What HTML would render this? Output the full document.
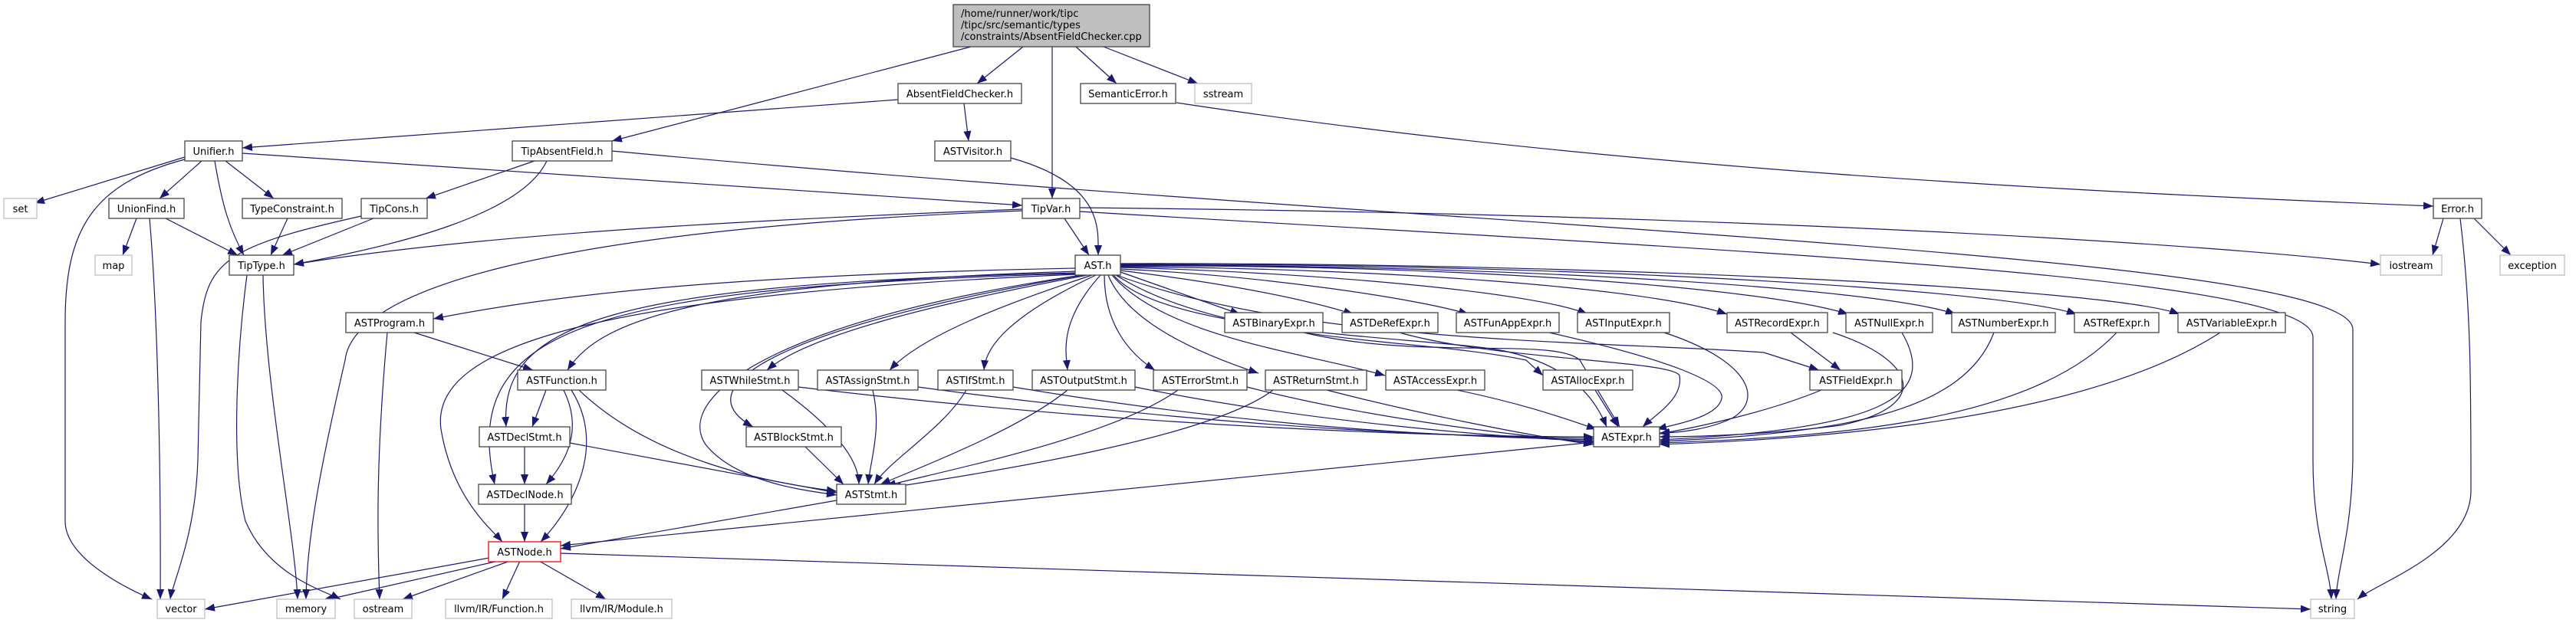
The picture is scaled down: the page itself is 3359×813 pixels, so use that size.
<!DOCTYPE html>
<html><head><meta charset="utf-8"><style>
html,body{margin:0;padding:0;background:#fff;}
svg{display:block;}
text{font-family:"DejaVu Sans","Liberation Sans",sans-serif;font-size:13px;fill:#000;}
.n{fill:#fff;stroke:#444;stroke-width:1.3;}
.g{fill:#fff;stroke:#bfbfbf;stroke-width:1.3;}
.r{fill:#fff;stroke:#ff0000;stroke-width:1.3;}
.e{fill:none;stroke:#191970;stroke-width:1.2;marker-end:url(#a);}
</style></head><body>
<svg width="3359" height="813" viewBox="0 0 3359 813" xmlns="http://www.w3.org/2000/svg">
<defs><marker id="a" markerUnits="userSpaceOnUse" markerWidth="14" markerHeight="12" refX="13" refY="5" orient="auto"><path d="M0,0 L13,5 L0,10 z" fill="#191970"/></marker></defs>
<g>
<path class="e" d="M1334,61 L1274,109"/>
<path class="e" d="M1266,61 L798,184"/>
<path class="e" d="M1372,61 L1372,259"/>
<path class="e" d="M1403,61 L1456,109"/>
<path class="e" d="M1439,61 L1562,109"/>
<path class="e" d="M1171,130 L316,193"/>
<path class="e" d="M1257,135 L1263,184"/>
<path class="e" d="M1534,134 C2100,220 2700,250 3173,269"/>
<path class="e" d="M241,205 L45,265"/>
<path class="e" d="M263,210 L208,259"/>
<path class="e" d="M294,210 L357,259"/>
<path class="e" d="M280,210 C290,270 300,300 318,333"/>
<path class="e" d="M316,200 L1333,268"/>
<path class="e" d="M241,208 C120,240 85,300 85,420 L85,680 C85,730 170,770 198,782"/>
<path class="e" d="M697,210 L555,259"/>
<path class="e" d="M713,210 C680,280 520,320 383,345"/>
<path class="e" d="M798,197 C1900,300 3068,330 3068,430 L3068,600 C3066,700 3048,740 3046,782"/>
<path class="e" d="M1408,276 C2300,330 3016,360 3016,440 L3016,600 C3016,700 3038,740 3040,782"/>
<path class="e" d="M3208,285 C3222,400 3222,500 3222,640 C3222,720 3100,760 3074,782"/>
<path class="e" d="M1408,271 C2300,280 2900,320 3104,345"/>
<path class="e" d="M1333,273 C900,290 600,310 383,345"/>
<path class="e" d="M1388,285 L1420,333"/>
<path class="e" d="M1333,275 C700,300 460,380 450,470 C420,600 400,700 399,782"/>
<path class="e" d="M1318,206 C1440,240 1432,300 1432,333"/>
<path class="e" d="M3186,285 L3172,333"/>
<path class="e" d="M3226,285 L3274,333"/>
<path class="e" d="M178,285 L160,333"/>
<path class="e" d="M216,285 L310,333"/>
<path class="e" d="M195,285 C205,400 210,600 209,782"/>
<path class="e" d="M471,282 C300,320 270,340 262,420 L258,600 C255,700 225,760 222,782"/>
<path class="e" d="M375,285 L353,333"/>
<path class="e" d="M487,285 L368,333"/>
<path class="e" d="M343,359 C345,500 385,700 388,782"/>
<path class="e" d="M322,359 C310,450 300,600 320,680 C350,750 420,770 444,782"/>
<path class="e" d="M505,434 C490,600 492,700 495,782"/>
<path class="e" d="M540,434 L695,483"/>
<path class="e" d="M1402,350 C900,360 700,390 565,416"/>
<path class="e" d="M1404,354 C900,370 780,420 740,483"/>
<path class="e" d="M1404,356 C800,370 650,420 660,557"/>
<path class="e" d="M1404,357 C760,375 600,430 645,632"/>
<path class="e" d="M1404,358 C780,385 560,450 575,560 C590,650 640,690 655,707"/>
<path class="e" d="M1410,359 C1000,420 880,520 920,580 C960,630 1050,640 1091,646"/>
<path class="e" d="M1412,359 C1050,420 880,500 982,557"/>
<path class="e" d="M1418,359 C1200,400 1050,440 1000,483"/>
<path class="e" d="M1424,359 C1300,400 1200,440 1160,483"/>
<path class="e" d="M1429,359 C1300,420 1285,460 1283,483"/>
<path class="e" d="M1435,359 C1380,420 1390,460 1392,483"/>
<path class="e" d="M1440,359 C1440,420 1470,460 1506,483"/>
<path class="e" d="M1445,359 C1470,420 1560,460 1641,487"/>
<path class="e" d="M1450,359 C1520,440 1700,460 1806,490"/>
<path class="e" d="M1455,359 C1600,450 1850,440 1990,470 L2012,490"/>
<path class="e" d="M1456,359 C1700,450 2100,445 2300,460 L2372,483"/>
<path class="e" d="M1452,359 C1520,440 1900,440 1970,460 C2050,480 2080,520 2095,557"/>
<path class="e" d="M1461,355 L1617,410"/>
<path class="e" d="M1461,353 C1600,370 1700,390 1765,410"/>
<path class="e" d="M1461,351 C1650,360 1850,390 1915,410"/>
<path class="e" d="M1461,349 C1700,355 2000,380 2070,410"/>
<path class="e" d="M1461,348 C1800,350 2150,375 2252,410"/>
<path class="e" d="M1461,347 C1900,345 2300,375 2410,410"/>
<path class="e" d="M1461,346 C1950,345 2450,375 2550,410"/>
<path class="e" d="M1461,345 C2000,343 2600,375 2708,410"/>
<path class="e" d="M1461,344 C2050,342 2750,375 2842,410"/>
<path class="e" d="M1020,509 C1090,560 1120,600 1120,632"/>
<path class="e" d="M1041,505 C1500,560 1900,570 2078,570"/>
<path class="e" d="M1138,509 C1150,560 1135,600 1132,632"/>
<path class="e" d="M1197,505 C1600,560 1900,570 2078,572"/>
<path class="e" d="M1260,509 C1230,560 1160,600 1140,632"/>
<path class="e" d="M1321,505 C1650,560 1900,570 2078,574"/>
<path class="e" d="M1392,509 C1330,560 1200,610 1148,632"/>
<path class="e" d="M1480,505 C1700,550 1950,570 2078,576"/>
<path class="e" d="M1536,509 C1450,570 1250,610 1155,634"/>
<path class="e" d="M1626,505 C1800,550 2000,570 2078,578"/>
<path class="e" d="M1660,509 C1580,570 1300,615 1162,636"/>
<path class="e" d="M1730,509 C1850,540 2000,570 2078,580"/>
<path class="e" d="M1900,509 C2000,530 2050,550 2082,560"/>
<path class="e" d="M2080,509 L2110,557"/>
<path class="e" d="M1050,583 L1100,632"/>
<path class="e" d="M755,509 C850,600 1000,630 1091,641"/>
<path class="e" d="M712,509 L694,557"/>
<path class="e" d="M735,509 C760,560 740,600 712,632"/>
<path class="e" d="M745,509 C790,580 750,660 705,707"/>
<path class="e" d="M684,583 L684,632"/>
<path class="e" d="M743,578 L1091,643"/>
<path class="e" d="M684,658 L684,707"/>
<path class="e" d="M1091,653 L731,716"/>
<path class="e" d="M2078,577 L731,712"/>
<path class="e" d="M638,728 L267,795"/>
<path class="e" d="M650,732 L420,784"/>
<path class="e" d="M665,732 L525,782"/>
<path class="e" d="M678,732 L655,782"/>
<path class="e" d="M703,732 L790,782"/>
<path class="e" d="M731,722 L3013,795"/>
<path class="e" d="M1700,434 C1850,470 2030,440 2060,470 L2112,557"/>
<path class="e" d="M1825,434 C1950,470 2180,470 2190,490 C2195,520 2160,540 2142,557"/>
<path class="e" d="M2020,434 C2180,470 2250,500 2245,520 C2240,545 2180,555 2160,560"/>
<path class="e" d="M2170,434 C2280,470 2300,520 2260,545 C2230,560 2190,565 2164,565"/>
<path class="e" d="M2335,434 L2400,483"/>
<path class="e" d="M2390,434 C2500,470 2520,530 2400,555 C2300,568 2200,570 2164,570"/>
<path class="e" d="M2480,434 C2530,520 2450,560 2164,574"/>
<path class="e" d="M2600,434 C2560,540 2400,565 2164,576"/>
<path class="e" d="M2760,434 C2650,550 2400,570 2164,578"/>
<path class="e" d="M2895,434 C2700,560 2300,575 2164,580"/>
<path class="e" d="M2375,509 C2300,540 2200,560 2164,566"/>
</g>
<g>
<rect x="1243" y="6" width="256" height="55" fill="#bfbfbf" stroke="#444" stroke-width="1.3"/>
<text x="1253" y="22">/home/runner/work/tipc</text>
<text x="1253" y="37">/tipc/src/semantic/types</text>
<text x="1253" y="52">/constraints/AbsentFieldChecker.cpp</text>
</g>
<g text-anchor="middle">
<rect class="n" x="1171" y="109" width="161" height="26"/><text x="1251.5" y="127">AbsentFieldChecker.h</text>
<rect class="n" x="1409" y="109" width="124" height="26"/><text x="1471" y="127">SemanticError.h</text>
<rect class="g" x="1558" y="109" width="74" height="26"/><text x="1595" y="127">sstream</text>
<rect class="n" x="241" y="184" width="75" height="26"/><text x="278.5" y="202">Unifier.h</text>
<rect class="n" x="668" y="184" width="130" height="26"/><text x="733" y="202">TipAbsentField.h</text>
<rect class="n" x="1219" y="184" width="99" height="26"/><text x="1268.5" y="202">ASTVisitor.h</text>
<rect class="g" x="5" y="259" width="43" height="26"/><text x="26.5" y="277">set</text>
<rect class="n" x="142" y="259" width="98" height="26"/><text x="191" y="277">UnionFind.h</text>
<rect class="n" x="316" y="259" width="130" height="26"/><text x="381" y="277">TypeConstraint.h</text>
<rect class="n" x="471" y="259" width="86" height="26"/><text x="514" y="277">TipCons.h</text>
<rect class="n" x="1333" y="259" width="75" height="26"/><text x="1370.5" y="277">TipVar.h</text>
<rect class="n" x="3173" y="259" width="63" height="26"/><text x="3204.5" y="277">Error.h</text>
<rect class="g" x="124" y="333" width="48" height="26"/><text x="148" y="351">map</text>
<rect class="n" x="299" y="333" width="84" height="26"/><text x="341" y="351">TipType.h</text>
<rect class="n" x="1402" y="333" width="59" height="26"/><text x="1431.5" y="351">AST.h</text>
<rect class="g" x="3104" y="333" width="80" height="26"/><text x="3144" y="351">iostream</text>
<rect class="g" x="3260" y="333" width="84" height="26"/><text x="3302" y="351">exception</text>
<rect class="n" x="451" y="408" width="114" height="26"/><text x="508" y="426">ASTProgram.h</text>
<rect class="n" x="1597" y="408" width="128" height="26"/><text x="1661" y="426">ASTBinaryExpr.h</text>
<rect class="n" x="1750" y="408" width="125" height="26"/><text x="1812.5" y="426">ASTDeRefExpr.h</text>
<rect class="n" x="1899" y="408" width="134" height="26"/><text x="1966" y="426">ASTFunAppExpr.h</text>
<rect class="n" x="2057" y="408" width="120" height="26"/><text x="2117" y="426">ASTInputExpr.h</text>
<rect class="n" x="2252" y="408" width="131" height="26"/><text x="2317.5" y="426">ASTRecordExpr.h</text>
<rect class="n" x="2407" y="408" width="113" height="26"/><text x="2463.5" y="426">ASTNullExpr.h</text>
<rect class="n" x="2545" y="408" width="135" height="26"/><text x="2612.5" y="426">ASTNumberExpr.h</text>
<rect class="n" x="2705" y="408" width="110" height="26"/><text x="2760" y="426">ASTRefExpr.h</text>
<rect class="n" x="2840" y="408" width="140" height="26"/><text x="2910" y="426">ASTVariableExpr.h</text>
<rect class="n" x="675" y="483" width="115" height="26"/><text x="732.5" y="501">ASTFunction.h</text>
<rect class="n" x="915" y="483" width="126" height="26"/><text x="978" y="501">ASTWhileStmt.h</text>
<rect class="n" x="1066" y="483" width="131" height="26"/><text x="1131.5" y="501">ASTAssignStmt.h</text>
<rect class="n" x="1223" y="483" width="98" height="26"/><text x="1272" y="501">ASTIfStmt.h</text>
<rect class="n" x="1346" y="483" width="134" height="26"/><text x="1413" y="501">ASTOutputStmt.h</text>
<rect class="n" x="1504" y="483" width="122" height="26"/><text x="1565" y="501">ASTErrorStmt.h</text>
<rect class="n" x="1650" y="483" width="132" height="26"/><text x="1716" y="501">ASTReturnStmt.h</text>
<rect class="n" x="1807" y="483" width="129" height="26"/><text x="1871.5" y="501">ASTAccessExpr.h</text>
<rect class="n" x="2012" y="483" width="117" height="26"/><text x="2070.5" y="501">ASTAllocExpr.h</text>
<rect class="n" x="2360" y="483" width="120" height="26"/><text x="2420" y="501">ASTFieldExpr.h</text>
<rect class="n" x="625" y="557" width="118" height="26"/><text x="684" y="575">ASTDeclStmt.h</text>
<rect class="n" x="973" y="557" width="124" height="26"/><text x="1035" y="575">ASTBlockStmt.h</text>
<rect class="n" x="2078" y="557" width="86" height="26"/><text x="2121" y="575">ASTExpr.h</text>
<rect class="n" x="624" y="632" width="121" height="26"/><text x="684.5" y="650">ASTDeclNode.h</text>
<rect class="n" x="1091" y="632" width="90" height="26"/><text x="1136" y="650">ASTStmt.h</text>
<rect class="r" x="637" y="707" width="94" height="26"/><text x="684" y="725">ASTNode.h</text>
<rect class="g" x="205" y="782" width="62" height="25"/><text x="236" y="799">vector</text>
<rect class="g" x="361" y="782" width="76" height="25"/><text x="399" y="799">memory</text>
<rect class="g" x="462" y="782" width="75" height="25"/><text x="499.5" y="799">ostream</text>
<rect class="g" x="581" y="782" width="139" height="25"/><text x="650.5" y="799">llvm/IR/Function.h</text>
<rect class="g" x="745" y="782" width="131" height="25"/><text x="810.5" y="799">llvm/IR/Module.h</text>
<rect class="g" x="3013" y="782" width="57" height="25"/><text x="3041.5" y="799">string</text>
</g>
</svg>
</body></html>
